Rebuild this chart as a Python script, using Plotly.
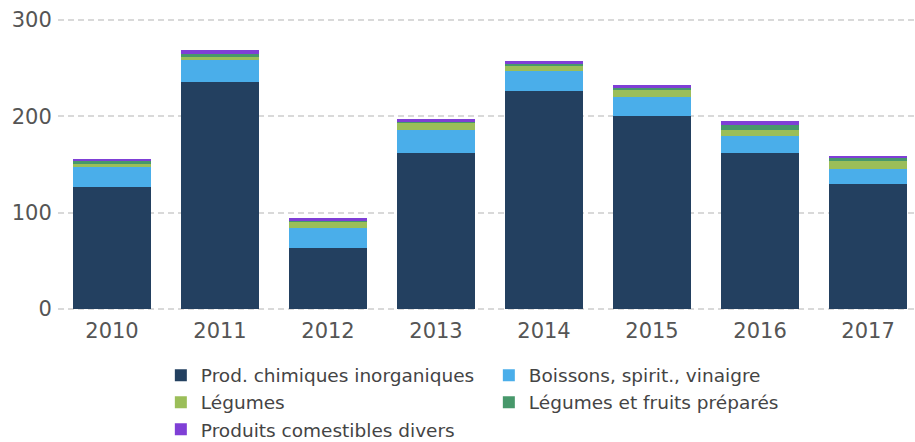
import plotly.graph_objects as go

years = ["2010", "2011", "2012", "2013", "2014", "2015", "2016", "2017"]
chimiques = [127, 236, 63, 162, 226, 200, 162, 130]
boissons = [20, 22, 21, 24, 21, 20, 18, 15]
legumes = [4, 4, 7, 8, 6, 7, 6, 9]
legumes_prep = [3, 3, 1, 1, 2, 3, 5, 3]
divers = [2, 4, 2, 2, 2, 2, 4, 2]

series = [
    ("Prod. chimiques inorganiques", chimiques, "#234060"),
    ("Boissons, spirit., vinaigre", boissons, "#4aaeea"),
    ("Légumes", legumes, "#9bbe59"),
    ("Légumes et fruits préparés", legumes_prep, "#47986b"),
    ("Produits comestibles divers", divers, "#7f3fd6"),
]

fig = go.Figure()
for name, vals, col in series:
    fig.add_trace(go.Bar(x=years, y=vals, name=name, marker=dict(color=col, line=dict(width=0))))

fig.update_layout(
    width=915, height=442,
    barmode="stack", bargap=0.278,
    paper_bgcolor="white", plot_bgcolor="white",
    margin=dict(l=58, r=0, t=16.6, b=129.6),
    font=dict(family="DejaVu Sans", color="#555555"),
    xaxis=dict(
        type="category", range=[-0.5, 7.435],
        showgrid=False, zeroline=False, showline=False,
        ticks="outside", ticklen=0, tickcolor="rgba(0,0,0,0)",
        tickfont=dict(size=21, color="#555555"),
    ),
    yaxis=dict(
        range=[-3, 303], tickvals=[0, 100, 200, 300],
        showgrid=True, gridcolor="#d9d9d9", gridwidth=2, griddash="6px,4px",
        zeroline=False, showline=False,
        ticks="outside", ticklen=1, tickcolor="rgba(0,0,0,0)",
        tickfont=dict(size=21, color="#555555"),
    ),
    legend=dict(
        orientation="h", traceorder="normal",
        x=0.12, xanchor="left", yref="container", y=0.193, yanchor="top",
        entrywidth=283, entrywidthmode="pixels",
        font=dict(size=18.5, color="#444444"),
    ),
    showlegend=True,
)

fig.write_html("out.html", config={"displayModeBar": False},
               post_script="document.body.style.margin='0';")
